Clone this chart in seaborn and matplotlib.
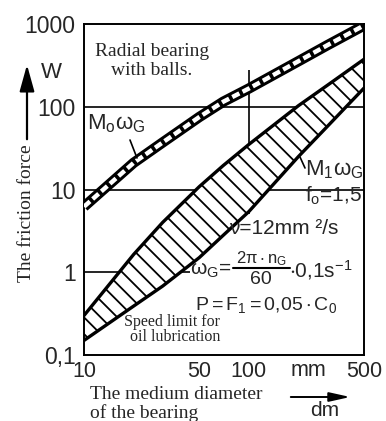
import matplotlib
matplotlib.use('Agg')
import matplotlib.pyplot as plt
import seaborn as sns
from matplotlib.ticker import NullLocator

# diametro medio (mm) e forca de atrito (W)
diametro = [10, 20, 30, 50, 70, 100, 200, 300, 500]
m0_wg = [6.2, 21, 37, 75, 115, 166, 355, 555, 960]
m1_sup = [0.30, 1.64, 4.0, 10.8, 19.5, 35, 103, 182, 375]
m1_inf = [0.15, 0.39, 0.68, 1.5, 2.8, 5.4, 25, 58, 168]

y_ticks = [0.1, 1, 10, 100, 1000]
y_labels = ['0,1', '1', '10', '100', '1000']
x_ticks = [10, 50, 100, 500]
x_labels = ['10', '50', '100', '500']

sns.set_style('white')
plt.rcParams['font.family'] = ['Liberation Sans', 'DejaVu Sans']
plt.rcParams['hatch.linewidth'] = 1.3
plt.rcParams['mathtext.fontset'] = 'custom'
plt.rcParams['mathtext.rm'] = 'Liberation Sans'
plt.rcParams['mathtext.it'] = 'Liberation Sans'
plt.rcParams['mathtext.sf'] = 'Liberation Sans'

W, H = 386, 421
fig = plt.figure(figsize=(W / 100, H / 100), dpi=100)
ax = fig.add_axes([84 / W, 1 - 355 / H, 280 / W, 331 / H])


def px(x, y):
    return x / W, 1 - y / H


def traco(x0, y0, x1, y1, lw=1.2):
    fig.lines.append(plt.Line2D([x0 / W, x1 / W], [1 - y0 / H, 1 - y1 / H],
                                transform=fig.transFigure, color='black', lw=lw))


serif = ['Liberation Serif', 'DejaVu Serif']

# linhas de grade desenhadas a mao
ax.axhline(100, color='black', lw=1.2)
ax.axhline(10, color='black', lw=1.2)
ax.hlines(1, 10, 44, color='black', lw=1.2)
ax.vlines(100, 5, 280, color='black', lw=1.2)

# faixa M1 wG (hachurada)
ax.fill_between(diametro, m1_inf, m1_sup, facecolor='white', edgecolor='black',
                hatch='\\\\', linewidth=0, zorder=2)
sns.lineplot(x=diametro, y=m1_sup, ax=ax, color='black', lw=2.4, zorder=3)
sns.lineplot(x=diametro, y=m1_inf, ax=ax, color='black', lw=2.4, zorder=3)

# faixa M0 wG (quadriculada)
sns.lineplot(x=diametro, y=m0_wg, ax=ax, color='black', lw=7.5, zorder=3,
             solid_capstyle='butt')
ax.plot(diametro, m0_wg, color='white', lw=3.2, linestyle=(0, (1.8, 0.8)), zorder=4)

ax.set_xscale('log')
ax.set_yscale('log')
ax.set_xlim(10, 500)
ax.set_ylim(0.1, 1000)
ax.set_xticks(x_ticks)
ax.set_xticklabels(x_labels)
ax.set_yticks(y_ticks)
ax.set_yticklabels(y_labels)
ax.xaxis.set_minor_locator(NullLocator())
ax.yaxis.set_minor_locator(NullLocator())
ax.tick_params(axis='y', length=0, pad=6, labelsize=16.5)
ax.tick_params(axis='x', direction='in', length=6, width=1.2, pad=4, labelsize=15.5)
for s in ax.spines.values():
    s.set_visible(True)
    s.set_color('black')
    s.set_linewidth(1.4)

# textos dentro do grafico
fig.text(*px(152, 61), 'Radial bearing\nwith balls.', family=serif, fontsize=14,
         ha='center', va='center', linespacing=1.15)
fig.text(*px(116, 124), r'$\mathregular{M_o\omega_G}$', fontsize=16, ha='center', va='center')
traco(130, 140, 137, 158)
fig.text(*px(334, 170), r'$\mathregular{M_1\omega_G}$', fontsize=16, ha='center', va='center')
traco(300, 157, 305, 168)
fig.text(*px(305, 196), r'$\mathregular{f_o}$=1,5', fontsize=15, ha='left', va='center')
fig.text(*px(229, 228), 'ν=12mm ²/s', fontsize=15, ha='left', va='center')
fig.text(*px(190, 270), r'$\mathregular{\omega_G}$=', fontsize=15, ha='left', va='center')
fig.text(*px(261, 259), r'$\mathregular{2\pi\cdot n_G}$', fontsize=12, ha='center', va='center')
traco(233, 268, 290, 268, lw=1.5)
fig.text(*px(261, 279), '60', fontsize=14, ha='center', va='center')
fig.text(*px(289, 270), r'$\mathregular{\cdot 0{,}1s^{-1}}$', fontsize=15, ha='left', va='center')
fig.text(*px(195, 305), r'$\mathregular{P=F_1=0{,}05\cdot C_0}$', fontsize=14,
         ha='left', va='center')
fig.text(*px(172, 322), 'Speed limit for', family=serif, fontsize=11.5, ha='center', va='center')
fig.text(*px(175, 337), 'oil lubrication', family=serif, fontsize=11.5, ha='center', va='center')

# eixos: rotulos e setas
fig.text(*px(27, 213), 'The friction force', family=serif, fontsize=14, rotation=90,
         ha='center', va='center')
ax.annotate('', xy=px(27, 62), xycoords='figure fraction', xytext=px(27, 142),
            textcoords='figure fraction',
            arrowprops=dict(arrowstyle='-|>,head_length=0.9,head_width=0.25',
                            lw=1.6, color='black', mutation_scale=18))
fig.text(*px(51, 72), 'W', fontsize=16, ha='center', va='center')
fig.text(*px(308, 371), 'mm', fontsize=15.5, ha='center', va='center')
fig.text(*px(90, 404), 'The medium diameter\nof the bearing', family=serif, fontsize=14,
         ha='left', va='center', linespacing=1.1)
ax.annotate('', xy=px(353, 397), xycoords='figure fraction', xytext=px(288, 397),
            textcoords='figure fraction',
            arrowprops=dict(arrowstyle='-|>,head_length=0.9,head_width=0.2',
                            lw=1.4, color='black', mutation_scale=14))
fig.text(*px(325, 410), 'dm', fontsize=15, ha='center', va='center')

fig.savefig('out.png', dpi=100, facecolor='white')
